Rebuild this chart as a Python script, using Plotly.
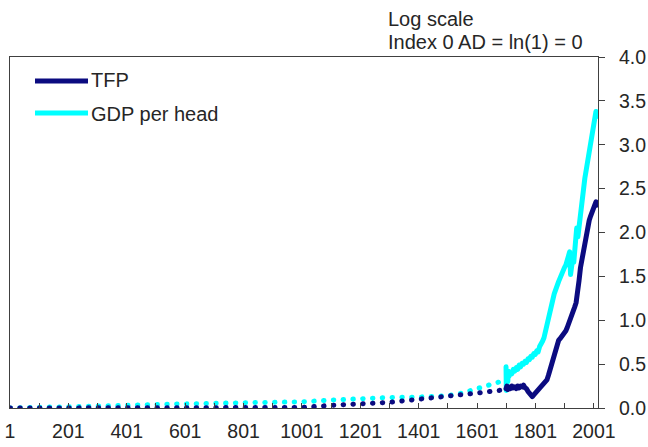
import plotly.graph_objects as go

# Early (dotted) segment
dot_years = [1, 100, 200, 300, 400, 500, 600, 700, 800, 900, 1000, 1100, 1200, 1300, 1400, 1500, 1550, 1600, 1650, 1700]
tfp_dot = [0, 0, 0, 0, 0, 0, 0, 0.002, 0.004, 0.005, 0.006, 0.03, 0.045, 0.065, 0.10, 0.13, 0.15, 0.17, 0.19, 0.21]
gdp_dot = [0, 0.005, 0.01, 0.02, 0.03, 0.04, 0.05, 0.055, 0.06, 0.065, 0.07, 0.09, 0.11, 0.12, 0.125, 0.14, 0.17, 0.22, 0.28, 0.32]

# Later (solid) segment
tfp_years = [1700, 1703, 1706, 1710, 1715, 1720, 1725, 1730, 1735, 1740, 1745, 1750, 1755, 1760, 1765,
             1770, 1775, 1780, 1785, 1790, 1795, 1800, 1805, 1810, 1815, 1820, 1825, 1830, 1835, 1840,
             1845, 1850, 1855, 1860, 1865, 1870, 1875, 1880, 1885, 1890, 1895, 1900, 1905, 1910, 1915,
             1920, 1925, 1930, 1935, 1940, 1945, 1950, 1955, 1960, 1965, 1970, 1975, 1980, 1985, 1990,
             1995, 2000, 2005, 2008, 2010, 2014]
tfp_vals = [0.22, 0.25, 0.21, 0.24, 0.22, 0.25, 0.23, 0.24, 0.22, 0.25, 0.23, 0.25, 0.24, 0.26, 0.23,
            0.22, 0.19, 0.17, 0.15, 0.13, 0.15, 0.17, 0.20, 0.22, 0.24, 0.25, 0.27, 0.28, 0.30, 0.32,
            0.37, 0.43, 0.49, 0.55, 0.63, 0.70, 0.75, 0.77, 0.79, 0.81, 0.84, 0.85, 0.88, 0.92, 0.96,
            1.00, 1.04, 1.10, 1.15, 1.20, 1.30, 1.45, 1.60, 1.70, 1.80, 1.89, 1.97, 2.05, 2.14, 2.19,
            2.24, 2.29, 2.32, 2.35, 2.31, 2.33]

gdp_years = [1700, 1701, 1702, 1703, 1704, 1706, 1708, 1710, 1715, 1720, 1725, 1730, 1735, 1740, 1745,
             1750, 1755, 1760, 1765, 1770, 1775, 1780, 1785, 1790, 1795, 1800, 1805, 1810, 1815, 1820,
             1825, 1830, 1835, 1840, 1845, 1850, 1855, 1860, 1865, 1870, 1875, 1880, 1885, 1890, 1895,
             1900, 1905, 1910, 1915, 1918, 1921, 1925, 1929, 1932, 1937, 1942, 1946, 1950, 1955, 1960,
             1965, 1970, 1975, 1980, 1985, 1990, 1995, 2000, 2004, 2008, 2009, 2014]
gdp_vals = [0.47, 0.20, 0.44, 0.24, 0.40, 0.30, 0.42, 0.36, 0.41, 0.39, 0.44, 0.42, 0.46, 0.44, 0.49,
            0.47, 0.51, 0.50, 0.53, 0.52, 0.56, 0.55, 0.59, 0.58, 0.62, 0.61, 0.65, 0.64, 0.70, 0.72,
            0.76, 0.80, 0.88, 0.97, 1.05, 1.12, 1.18, 1.23, 1.30, 1.36, 1.40, 1.44, 1.48, 1.53, 1.56,
            1.60, 1.63, 1.68, 1.75, 1.78, 1.52, 1.60, 1.72, 1.66, 1.85, 2.05, 1.95, 2.08, 2.25, 2.40,
            2.52, 2.62, 2.72, 2.82, 2.94, 3.05, 3.14, 3.25, 3.31, 3.38, 3.32, 3.36]

x_ticks = [1, 201, 401, 601, 801, 1001, 1201, 1401, 1601, 1801, 2001]
y_ticks = [0.0, 0.5, 1.0, 1.5, 2.0, 2.5, 3.0, 3.5, 4.0]

NAVY = "#0b0b80"
CYAN = "#00ffff"
AX = "#404040"
FONT = "Liberation Sans, Arial, sans-serif"
TXT = "#262626"

L, T, PW, PH = 10, 57, 588, 351
W, H = 648, 447

fig = go.Figure()
fig.add_trace(go.Scatter(x=dot_years, y=gdp_dot, mode="lines",
                         line=dict(color=CYAN, width=5, dash="0.5px,9.3px"), showlegend=False))
fig.add_trace(go.Scatter(x=dot_years, y=tfp_dot, mode="lines",
                         line=dict(color=NAVY, width=5, dash="0.5px,9.3px"), showlegend=False))
fig.add_trace(go.Scatter(x=gdp_years, y=gdp_vals, mode="lines",
                         line=dict(color=CYAN, width=5), showlegend=False))
fig.add_trace(go.Scatter(x=tfp_years, y=tfp_vals, mode="lines",
                         line=dict(color=NAVY, width=5), showlegend=False))

# Manual legend
legend_items = [("TFP", NAVY, 81, 80), ("GDP per head", CYAN, 113, 114)]
for name, col, ypx, typx in legend_items:
    yp = 1 - (ypx - T) / PH
    ty = 1 - (typx - T) / PH
    fig.add_shape(type="line", xref="paper", yref="paper",
                  x0=(35 - L) / PW, x1=(88 - L) / PW, y0=yp, y1=yp,
                  line=dict(color=col, width=5))
    fig.add_annotation(xref="paper", yref="paper", x=(89 - L) / PW, y=ty,
                       text=name, showarrow=False, xanchor="left", yanchor="middle",
                       font=dict(family=FONT, size=20, color=TXT))

fig.add_annotation(xref="paper", yref="paper", x=(386 - L) / PW, y=1 + (T - 19) / PH,
                   text="Log scale", showarrow=False, xanchor="left", yanchor="middle",
                   font=dict(family=FONT, size=20, color=TXT))
fig.add_annotation(xref="paper", yref="paper", x=(386 - L) / PW, y=1 + (T - 42) / PH,
                   text="Index 0 AD = ln(1) = 0", showarrow=False, xanchor="left", yanchor="middle",
                   font=dict(family=FONT, size=20, color=TXT))

fig.update_layout(
    width=W, height=H,
    margin=dict(l=L, r=W - L - PW, t=T, b=H - T - PH, autoexpand=False),
    paper_bgcolor="white", plot_bgcolor="white",
    font=dict(family=FONT, size=19.5, color=TXT),
    showlegend=False,
)
fig.update_xaxes(range=[1, 2015], tickvals=x_ticks, ticktext=[str(v) for v in x_ticks],
                 ticks="inside", ticklen=5, tickcolor=AX, showgrid=False, zeroline=False,
                 showline=True, linecolor=AX, linewidth=1, mirror=True,
                 ticklabeloverflow="allow", ticklabelstandoff=6,
                 minor=dict(dtick=100, tick0=1, ticks="inside", ticklen=5, tickcolor=AX, showgrid=False),
                 tickfont=dict(family=FONT, size=19.5, color=TXT))
fig.update_yaxes(range=[0, 4], tickvals=y_ticks, ticktext=[f"{v:.1f}" for v in y_ticks],
                 side="right", ticks="outside", ticklen=6, tickcolor=AX, showgrid=False,
                 zeroline=False, showline=True, linecolor=AX, linewidth=1, mirror=True,
                 ticklabeloverflow="allow", ticklabelstandoff=10,
                 tickfont=dict(family=FONT, size=19.5, color=TXT))

post = """
var s = document.createElement('style');
s.innerHTML = 'html, body { margin: 0 !important; padding: 0 !important; overflow: hidden; } .scatterlayer .js-line { stroke-linecap: round; stroke-linejoin: round; }';
document.head.appendChild(s);
"""
fig.write_html("out.html", post_script=post, config={"displayModeBar": False})
